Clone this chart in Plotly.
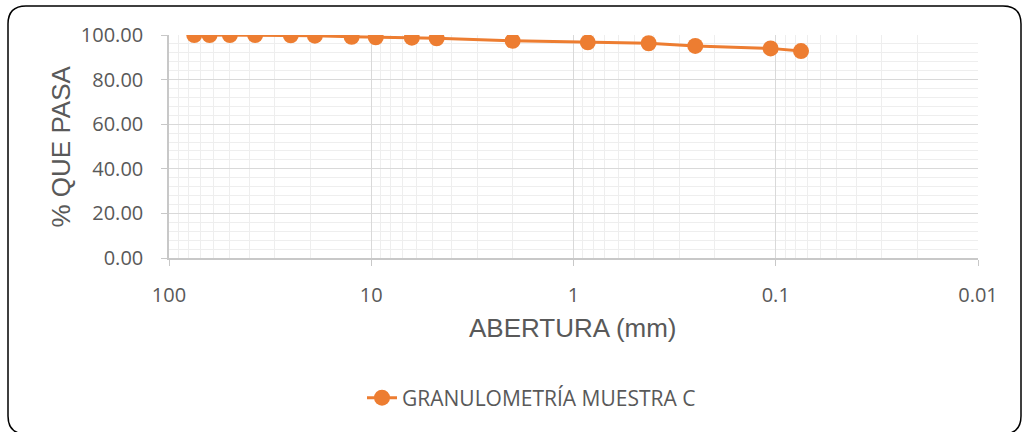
import plotly.graph_objects as go

# Data
abertura_mm = [75, 63, 50, 37.5, 25, 19, 12.5, 9.5, 6.3, 4.75, 2.0, 0.85, 0.425, 0.25, 0.106, 0.075]
pct_pasa = [100.0, 100.0, 100.0, 100.0, 99.9, 99.7, 99.2, 99.0, 98.8, 98.5, 97.4, 96.7, 96.3, 95.1, 94.0, 92.8]
series_name = "GRANULOMETRÍA MUESTRA C"
x_tickvals = [100, 10, 1, 0.1, 0.01]
x_ticktext = ["100", "10", "1", "0.1", "0.01"]

W, H = 1022, 432
ML, MR, MT, MB = 169, 44, 35, 174
PW, PH = W - ML - MR, H - MT - MB
ORANGE = "#ED7D31"
GREY = "#595959"


def px(x):
    return (x - ML) / PW


def py(y):
    return (H - MB - y) / PH


fig = go.Figure()
fig.add_trace(go.Scatter(
    x=abertura_mm, y=pct_pasa, name=series_name, mode="lines+markers",
    line=dict(color=ORANGE, width=3),
    marker=dict(color=ORANGE, size=16),
    showlegend=True,
))

# rounded border of the chart area
x0, x1, y0, y1, r = 8, 1021, 6, 434, 18
path = (
    f"M {px(x0 + r)},{py(y0)} L {px(x1 - r)},{py(y0)} "
    f"Q {px(x1)},{py(y0)} {px(x1)},{py(y0 + r)} "
    f"L {px(x1)},{py(y1 - r)} Q {px(x1)},{py(y1)} {px(x1 - r)},{py(y1)} "
    f"L {px(x0 + r)},{py(y1)} Q {px(x0)},{py(y1)} {px(x0)},{py(y1 - r)} "
    f"L {px(x0)},{py(y0 + r)} Q {px(x0)},{py(y0)} {px(x0 + r)},{py(y0)} Z"
)

fig.update_layout(
    width=W, height=H,
    margin=dict(l=ML, r=MR, t=MT, b=MB),
    paper_bgcolor="white", plot_bgcolor="white",
    font=dict(family="Open Sans", color=GREY),
    shapes=[dict(type="path", path=path, xref="paper", yref="paper",
                 line=dict(color="black", width=1.5), layer="below")],
    xaxis=dict(
        type="log", range=[2, -2],
        tickvals=x_tickvals, ticktext=x_ticktext,
        tickfont=dict(size=20, color=GREY, family="Open Sans"),
        showgrid=True, gridcolor="#d9d9d9", gridwidth=1.3,
        minor=dict(dtick="D1", showgrid=True, gridcolor="#eeeeee", gridwidth=1.3),
        showline=True, linecolor="#c8c8c8", linewidth=1.5,
        ticks="outside", ticklen=6, tickcolor="#c8c8c8",
        ticklabelstandoff=12,
        zeroline=False,
    ),
    yaxis=dict(
        range=[0, 100], dtick=20, tickformat=".2f",
        tickfont=dict(size=20, color=GREY, family="Open Sans"),
        showgrid=True, gridcolor="#d9d9d9", gridwidth=1.3,
        minor=dict(dtick=4, showgrid=True, gridcolor="#eeeeee", gridwidth=1.3),
        showline=True, linecolor="#c8c8c8", linewidth=1.5,
        ticks="outside", ticklen=6, tickcolor="#c8c8c8",
        ticklabelstandoff=14,
        zeroline=False,
    ),
    legend=dict(
        orientation="h", x=px(362), y=py(398), xanchor="left", yanchor="middle",
        font=dict(size=21, color=GREY, family="Open Sans"),
        bgcolor="rgba(0,0,0,0)",
    ),
    annotations=[
        dict(text="ABERTURA (mm)", x=px(573), y=py(328), xref="paper", yref="paper",
             showarrow=False, xanchor="center", yanchor="middle",
             font=dict(size=26, color=GREY, family="Liberation Sans")),
        dict(text="% QUE PASA", x=px(60), y=py(146.5), xref="paper", yref="paper",
             showarrow=False, xanchor="center", yanchor="middle", textangle=-90,
             font=dict(size=26, color=GREY, family="Liberation Sans")),
    ],
)

fig.write_html("out.html")
